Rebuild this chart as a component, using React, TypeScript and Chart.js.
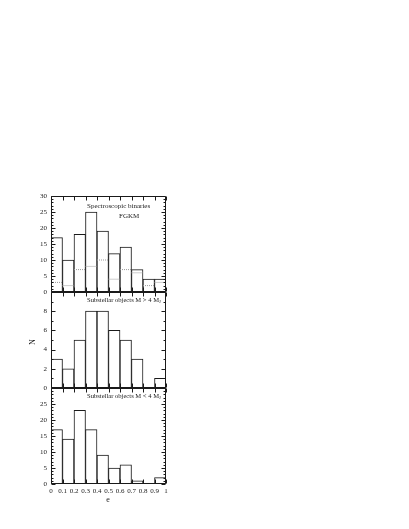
import React, { useEffect, useRef } from 'react';
import { Chart, registerables } from 'chart.js';
Chart.register(...registerables);

// Bin edges and centres of eccentricity histograms
const binEdges = [0, 0.1, 0.2, 0.3, 0.4, 0.5, 0.6, 0.7, 0.8, 0.9, 1.0];
const binCenters = [0.05, 0.15, 0.25, 0.35, 0.45, 0.55, 0.65, 0.75, 0.85, 0.95];

// Panel 1: spectroscopic binaries (FGKM) and dotted sub-histogram
const binariesFGKM = [17, 10, 18, 25, 19, 12, 14, 7, 4, 4];
const binariesDotted = [3, 2, 7, 8, 10, 4, 7, 6, 2, 3];
// Panel 2: substellar objects M > 4 MJ
const substellarHigh = [3, 2, 5, 8, 8, 6, 5, 3, 0, 1];
// Panel 3: substellar objects M < 4 MJ
const substellarLow = [17, 14, 23, 17, 9, 5, 6, 1, 0, 2];

const panelMax = [30, 10, 30];
const panelStep = [5, 2, 5];
const panelIds = ['y1', 'y2', 'y3'];

const FONT = 'Liberation Serif, Times New Roman, serif';
const INK = '#1a1a1a';

const toBars = (vals: number[]) =>
  binCenters.map((c, i) => ({ x: c, y: vals[i] === 0 ? null : vals[i] }));

const toSegments = (vals: number[]) => {
  const out: { x: number; y: number | null }[] = [];
  vals.forEach((v, i) => {
    out.push({ x: binEdges[i], y: v });
    out.push({ x: binEdges[i + 1], y: v });
    if (i < vals.length - 1) out.push({ x: binEdges[i + 1], y: null });
  });
  return out;
};

const framePlugin = {
  id: 'framePlugin',
  afterDatasetsDraw(chart: any) {
    const ctx = chart.ctx;
    const { left, right } = chart.chartArea;
    const xs = chart.scales.x;
    ctx.save();
    ctx.strokeStyle = INK;
    ctx.lineWidth = 1;
    const L = Math.round(left) + 0.5;
    const R = Math.round(right) - 0.5;
    panelIds.forEach((id, k) => {
      const ys = chart.scales[id];
      const T = Math.round(ys.top) + 0.5;
      const B = Math.round(ys.bottom) - 0.5;
      ctx.beginPath();
      ctx.rect(L, T, R - L, B - T);
      ctx.stroke();
      ctx.beginPath();
      for (let v = 0; v <= panelMax[k]; v += 1) {
        const y = Math.round(ys.getPixelForValue(v)) + 0.5;
        const len = v % panelStep[k] === 0 ? 4 : 2;
        ctx.moveTo(L, y);
        ctx.lineTo(L + len, y);
        ctx.moveTo(R, y);
        ctx.lineTo(R - len, y);
      }
      binEdges.forEach((e) => {
        const x = Math.round(xs.getPixelForValue(e)) + 0.5;
        ctx.moveTo(x, B);
        ctx.lineTo(x, B - 4);
        ctx.moveTo(x, T);
        ctx.lineTo(x, T + 4);
      });
      ctx.stroke();
    });

    ctx.fillStyle = INK;
    ctx.textBaseline = 'middle';
    ctx.font = `7px ${FONT}`;
    ctx.textAlign = 'left';
    ctx.fillText('Spectroscopic binaries', 87, 206);
    ctx.fillText('FGKM', 119, 216);

    const drawMJ = (txt: string, x: number, y: number) => {
      ctx.font = `6.6px ${FONT}`;
      ctx.fillText(txt, x, y);
      const w = ctx.measureText(txt).width;
      ctx.font = `4.5px ${FONT}`;
      ctx.fillText('J', x + w, y + 2);
    };
    drawMJ('Substellar objects M > 4 M', 87, 300);
    drawMJ('Substellar objects M < 4 M', 87, 396);

    ctx.font = `8px ${FONT}`;
    ctx.textAlign = 'center';
    ctx.fillText('e', 108, 500);
    ctx.save();
    ctx.translate(33, 342);
    ctx.rotate(-Math.PI / 2);
    ctx.fillText('N', 0, 0);
    ctx.restore();
    ctx.restore();
  },
};

const yAxis = (k: number) => ({
  type: 'linear',
  position: 'left',
  stack: 'panels',
  stackWeight: 1,
  weight: 3 - k,
  min: 0,
  max: panelMax[k],
  grid: { display: false, drawTicks: false },
  border: { display: false },
  ticks: {
    stepSize: panelStep[k],
    autoSkip: false,
    padding: 4,
    color: INK,
    font: { family: FONT, size: 7 },
    callback: (v: number) => (k > 0 && v === panelMax[k] ? '' : String(v)),
  },
  afterFit: (s: any) => {
    s.width = 22;
  },
});

const barDataset = (vals: number[], yAxisID: string) => ({
  type: 'bar',
  data: toBars(vals),
  yAxisID,
  xAxisID: 'x',
  backgroundColor: '#ffffff',
  borderColor: INK,
  borderWidth: 1,
  borderSkipped: 'start',
  grouped: false,
  barPercentage: 1,
  categoryPercentage: 1,
  order: 2,
});

export default function App() {
  const ref = useRef<HTMLCanvasElement>(null);
  useEffect(() => {
    if (!ref.current) return;
    const chart = new Chart(ref.current, {
      type: 'bar',
      data: {
        datasets: [
          barDataset(binariesFGKM, 'y1'),
          barDataset(substellarHigh, 'y2'),
          barDataset(substellarLow, 'y3'),
          {
            type: 'line',
            data: toSegments(binariesDotted),
            yAxisID: 'y1',
            xAxisID: 'x',
            borderColor: '#9a9a9a',
            borderWidth: 1,
            borderDash: [1, 1],
            pointRadius: 0,
            spanGaps: false,
            fill: false,
            order: 0,
          },
        ] as any,
      },
      options: {
        animation: false,
        responsive: false,
        maintainAspectRatio: false,
        layout: { padding: { left: 29, right: 243, top: 196, bottom: 33 } },
        plugins: { legend: { display: false }, tooltip: { enabled: false } },
        scales: {
          x: {
            type: 'linear',
            position: 'bottom',
            min: 0,
            max: 1,
            offset: false,
            grid: { display: false, drawTicks: false },
            border: { display: false },
            ticks: {
              stepSize: 0.1,
              autoSkip: false,
              maxRotation: 0,
              padding: 3,
              color: INK,
              font: { family: FONT, size: 7 },
              callback: (v: number) => (v === 0 ? '0' : Math.abs(v - 1) < 1e-9 ? '1' : Number(v).toFixed(1)),
            },
            afterFit: (s: any) => {
              s.height = 12;
            },
          },
          y1: yAxis(0),
          y2: yAxis(1),
          y3: yAxis(2),
        } as any,
      },
      plugins: [framePlugin],
    });
    return () => chart.destroy();
  }, []);
  return (
    <div style={{ position: 'absolute', left: 0, top: 0, width: 409, height: 529, background: '#fff' }}>
      <canvas ref={ref} width={409} height={529} style={{ display: 'block', width: 409, height: 529 }} />
    </div>
  );
}
